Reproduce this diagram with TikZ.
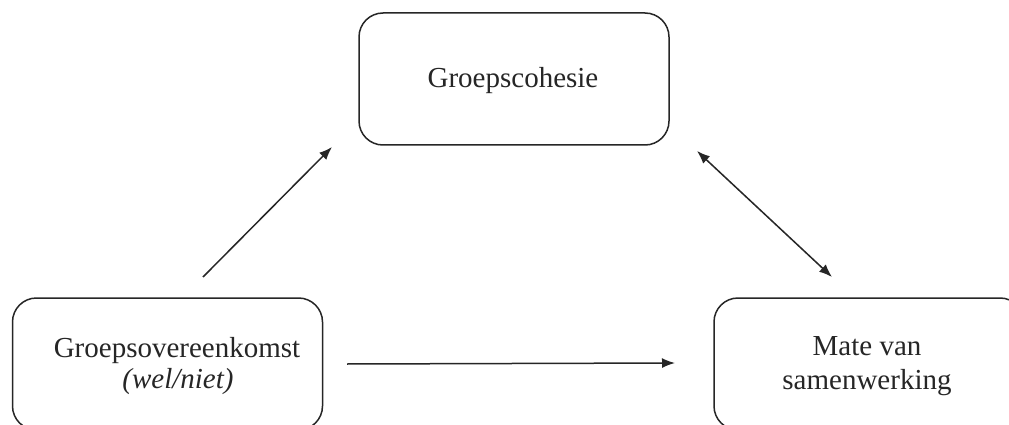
\documentclass[tikz,border=0pt]{standalone}
\usepackage{fontspec}
\setmainfont{Liberation Serif}
\usetikzlibrary{arrows.meta}
\begin{document}
\begin{tikzpicture}[x=1pt,y=-1pt,
  box/.style={draw=black!85, line width=1.5pt, rounded corners=24pt, minimum width=310pt, minimum height=132pt, inner sep=0pt},
  lbl/.style={anchor=base, inner sep=0pt, font=\fontsize{29}{34}\selectfont, text=black!85},
  conn/.style={line width=1.5pt, draw=black!85, -{Latex[length=13pt,width=10pt]}},
  conn2/.style={line width=1.5pt, draw=black!85, {Latex[length=13pt,width=10pt]}-{Latex[length=13pt,width=10pt]}}]
\useasboundingbox (0,0) rectangle (1009,425);
\clip (0,0) rectangle (1009,425);
\fill[white] (0,0) rectangle (1009,425);
% boxes
\node[box] (top) at (514,79) {};
\node[box] (left) at (167.5,364) {};
\node[box] (right) at (869,364) {};
% labels
\node[lbl] (t1) at (513,88) {Groepscohesie};
\node[lbl] (l1) at (177,357) {Groepsovereenkomst};
\node[lbl] (l2) at (178,388) {\itshape (wel/niet)};
\node[lbl] (r1) at (867,355) {Mate van};
\node[lbl] (r2) at (867,389) {samenwerking};
% connector ends
\coordinate (a1s) at (203,277);
\coordinate (a1e) at (332,147);
\coordinate (a2s) at (697,151);
\coordinate (a2e) at (832,277);
\coordinate (a3s) at (347,364);
\coordinate (a3e) at (675,363);
\draw[conn] (a1s) -- (a1e);
\draw[conn2] (a2s) -- (a2e);
\draw[conn] (a3s) -- (a3e);
\end{tikzpicture}
\end{document}
